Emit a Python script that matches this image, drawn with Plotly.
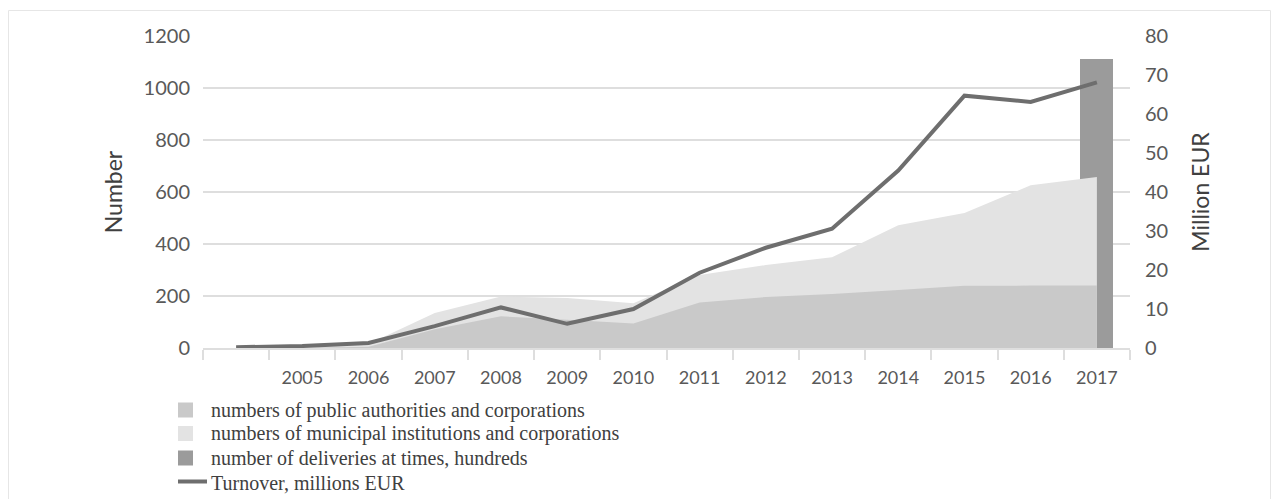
import plotly.graph_objects as go

years = [2004, 2005, 2006, 2007, 2008, 2009, 2010, 2011, 2012, 2013, 2014, 2015, 2016, 2017]
tick_years = [2005, 2006, 2007, 2008, 2009, 2010, 2011, 2012, 2013, 2014, 2015, 2016, 2017]
tick_labels = ["2005", "2006", "2007", "2008", "2009", "2010", "2011", "2012", "2013", "2014", "2015", "2016", "2017"]

public_auth = [0, 0, 5, 72, 122, 109, 94, 175, 196, 208, 223, 239, 240, 240]
municipal = [0, 0, 15, 135, 198, 192, 172, 281, 319, 349, 472, 519, 626, 658]
delivery_years = [2017]
deliveries = [1111]
turnover = [0.2, 0.5, 1.3, 5.6, 10.4, 6.2, 10.0, 19.3, 25.7, 30.6, 45.5, 64.7, 63.1, 68.1]

legend_names = [
    "numbers of public authorities and corporations",
    "numbers of municipal institutions and corporations",
    "number of deliveries at times, hundreds",
    "Turnover, millions EUR",
]

C_PUBLIC = "#c9c9c9"
C_MUNI = "#e3e3e3"
C_BAR = "#9b9b9b"
C_LINE = "#6e6e6e"

sans = "Lato, 'DejaVu Sans', sans-serif"
serif = "'Liberation Serif', 'DejaVu Serif', serif"
txt = "#595959"
grid = "#dedede"

W, H = 1279, 499
ML, MR, MT, MB = 203, 149, 36, 151
PW, PH = W - ML - MR, H - MT - MB


def px(xp):
    return (xp - ML) / PW


def py(yp):
    return (H - MB - yp) / PH


fig = go.Figure()

fig.add_trace(go.Scatter(x=years, y=municipal, mode="none", fill="tozeroy",
                         fillcolor=C_MUNI, name=legend_names[1], showlegend=False, hoverinfo="skip"))
fig.add_trace(go.Scatter(x=years, y=public_auth, mode="none", fill="tozeroy",
                         fillcolor=C_PUBLIC, name=legend_names[0], showlegend=False, hoverinfo="skip"))
fig.add_trace(go.Bar(x=delivery_years, y=deliveries, width=0.5, marker_color=C_BAR,
                     marker_line_width=0, name=legend_names[2], showlegend=False))
fig.add_trace(go.Scatter(x=years, y=turnover, mode="lines", yaxis="y2", name=legend_names[3],
                         line=dict(color=C_LINE, width=4), showlegend=False))

# custom legend (swatches + text) below the plot
shapes = []
annotations = []
row_y = [410, 433.5, 458, 483]
swatch_colors = [C_PUBLIC, C_MUNI, C_BAR]
for i, name in enumerate(legend_names):
    yc = row_y[i]
    if i < 3:
        shapes.append(dict(type="rect", xref="paper", yref="paper",
                           x0=px(178), x1=px(193), y0=py(yc - 7.5), y1=py(yc + 7.5),
                           fillcolor=swatch_colors[i], line=dict(width=0), layer="above"))
    else:
        shapes.append(dict(type="line", xref="paper", yref="paper",
                           x0=px(178), x1=px(207), y0=py(yc - 1.5), y1=py(yc - 1.5),
                           line=dict(color=C_LINE, width=4), layer="above"))
    annotations.append(dict(text=name, xref="paper", yref="paper", x=px(209), y=py(yc),
                            xanchor="left", yanchor="middle", showarrow=False,
                            font=dict(family=serif, size=20, color="#404040")))

# light outer frame
shapes.append(dict(type="rect", xref="paper", yref="paper",
                   x0=px(8.5), x1=px(1270.5), y0=py(520), y1=py(10.5),
                   line=dict(color="#e6e6e6", width=1), fillcolor="rgba(0,0,0,0)", layer="below"))

fig.update_layout(
    width=W, height=H,
    margin=dict(l=ML, r=MR, t=MT, b=MB),
    paper_bgcolor="white", plot_bgcolor="white",
    font=dict(family=sans, color=txt, size=20),
    bargap=0,
    showlegend=False,
    shapes=shapes,
    annotations=annotations,
    xaxis=dict(
        range=[2003.5, 2017.5], tickmode="array", tickvals=tick_years, ticktext=tick_labels,
        ticks="", showgrid=False, zeroline=False,
        showline=True, linecolor=grid, linewidth=2,
        tickfont=dict(family=sans, size=18, color=txt), ticklabelstandoff=12,
        minor=dict(ticks="outside", tick0=2003.5, dtick=1, ticklen=10, tickwidth=2,
                   tickcolor=grid, showgrid=False),
    ),
    yaxis=dict(
        range=[0, 1200], dtick=200, showgrid=True, gridcolor=grid, gridwidth=2,
        zeroline=False, showline=False, ticks="",
        tickfont=dict(family=sans, size=20, color=txt), ticklabelstandoff=12,
        title=dict(text="Number", font=dict(family=sans, size=23, color="#404040"), standoff=14),
    ),
    yaxis2=dict(
        range=[0, 80], dtick=10, overlaying="y", side="right", showgrid=False,
        zeroline=False, showline=False, ticks="",
        tickfont=dict(family=sans, size=20, color=txt), ticklabelstandoff=14,
        title=dict(text="Million EUR", font=dict(family=sans, size=23, color="#404040"), standoff=25),
    ),
)

fig.write_html("out.html")
